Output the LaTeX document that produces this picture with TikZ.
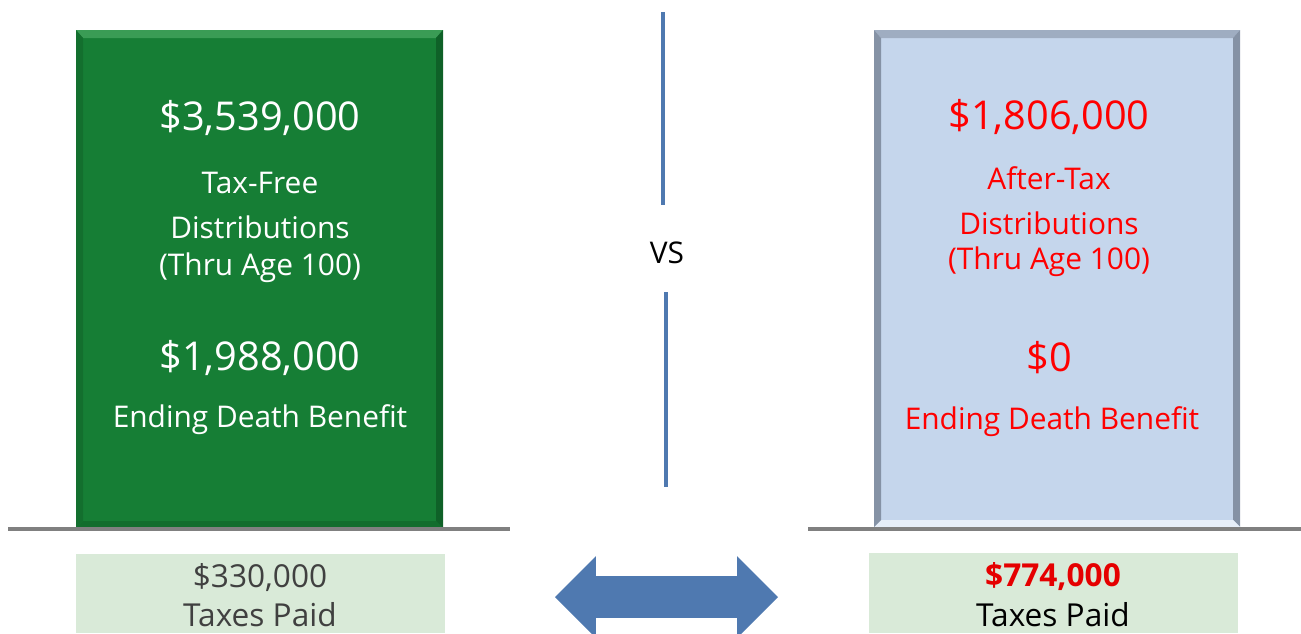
\documentclass[tikz,border=0pt]{standalone}
\usepackage{fontspec}
\setmainfont{Open Sans}
\usetikzlibrary{shapes.arrows}

\definecolor{roltgreen}{HTML}{167E35}
\definecolor{roltgreenhi}{HTML}{3A9C55}
\definecolor{roltgreenlo}{HTML}{0F6128}
\definecolor{tradblue}{HTML}{C5D6EC}
\definecolor{tradedge}{HTML}{8592A5}
\definecolor{tradhi}{HTML}{E6EEF8}
\definecolor{taxbg}{HTML}{D9EAD8}
\definecolor{linkblue}{HTML}{4F79B0}
\definecolor{loss}{HTML}{FF0000}
\definecolor{groundgray}{HTML}{808080}

\begin{document}
\begin{tikzpicture}[x=0.02cm, y=-0.02cm,
  big/.style={font=\fontsize{22.6}{26}\selectfont},
  label/.style={font=\fontsize{17}{20}\selectfont},
  taxtext/.style={font=\fontsize{18}{22}\selectfont},
  divider/.style={linkblue, line width=1.8pt}]
\useasboundingbox (0,0) rectangle (1301,633);

% columns
\fill[roltgreen] (76,30) rectangle (443,528);
\fill[roltgreenhi] (76,30) -- (443,30) -- (436,38) -- (83,38) -- cycle;
\fill[roltgreenlo] (443,30) -- (443,528) -- (436,521) -- (436,38) -- cycle;
\fill[roltgreenlo!60!roltgreen] (76,528) -- (443,528) -- (436,521) -- (83,521) -- cycle;
\fill[roltgreenlo!50!roltgreen] (76,30) -- (76,528) -- (83,521) -- (83,38) -- cycle;

\fill[tradblue] (874,30) rectangle (1240,527);
\fill[tradedge!60!tradblue] (874,30) -- (1240,30) -- (1233,38) -- (881,38) -- cycle;
\fill[tradedge] (1240,30) -- (1240,527) -- (1233,520) -- (1233,38) -- cycle;
\fill[tradhi] (874,527) -- (1240,527) -- (1233,520) -- (881,520) -- cycle;
\fill[tradedge] (874,30) -- (874,527) -- (881,520) -- (881,38) -- cycle;

% ground lines
\coordinate (gl1) at (8,529);
\coordinate (gl2) at (510,529);
\coordinate (gr1) at (808,529);
\coordinate (gr2) at (1301,529);
\draw[groundgray, line width=2.2pt] (gl1) -- (gl2);
\draw[groundgray, line width=2.2pt] (gr1) -- (gr2);

% left column text
\node[big, white] (rdist) at (260,118) {\$3,539,000};
\node[label, white] (rdl1) at (260,183) {Tax-Free};
\node[label, white] (rdl2) at (260,227) {Distributions};
\node[label, white] (rdl3) at (260,268) {(Thru Age 100)};
\node[big, white] (rdb) at (260,358) {\$1,988,000};
\node[label, white] (rdbl) at (260,420) {Ending Death Benefit};

% right column text
\node[big, loss] (tdist) at (1049,117) {\$1,806,000};
\node[label, loss] (tdl1) at (1049,178) {After-Tax};
\node[label, loss] (tdl2) at (1049,223) {Distributions};
\node[label, loss] (tdl3) at (1049,262) {(Thru Age 100)};
\node[big, loss] (tdb) at (1049,358) {\$0};
\node[label, loss] (tdbl) at (1052,422) {Ending Death Benefit};

% vs divider
\node[label] (vs) at (667,253) {VS};
\coordinate (vt1) at (663,12);
\coordinate (vt2) at (663,205);
\coordinate (vb1) at (666,292);
\coordinate (vb2) at (666,487);
\draw[divider] (vt1) -- (vt2);
\draw[divider] (vb1) -- (vb2);

% taxes paid
\fill[taxbg] (76,554) rectangle (445,633);
\fill[taxbg] (869,553) rectangle (1238,633);
\node[taxtext, black!75] (rtax) at (260,578) {\$330,000};
\node[taxtext, black!75] (rtaxl) at (260,615) {Taxes Paid};
\node[taxtext, loss!90!black, font=\bfseries\fontsize{18}{22}\selectfont] (ttax) at (1053,577) {\$774,000};
\node[taxtext, black] (ttaxl) at (1053,615) {Taxes Paid};

% compare arrow
\node[double arrow, fill=linkblue, minimum width=80*0.02cm,
  double arrow head extend=0.4cm, minimum height=223*0.02cm,
  inner sep=0pt, inner ysep=0.41cm] (cmp) at (666.5,597) {};
\end{tikzpicture}
\end{document}
